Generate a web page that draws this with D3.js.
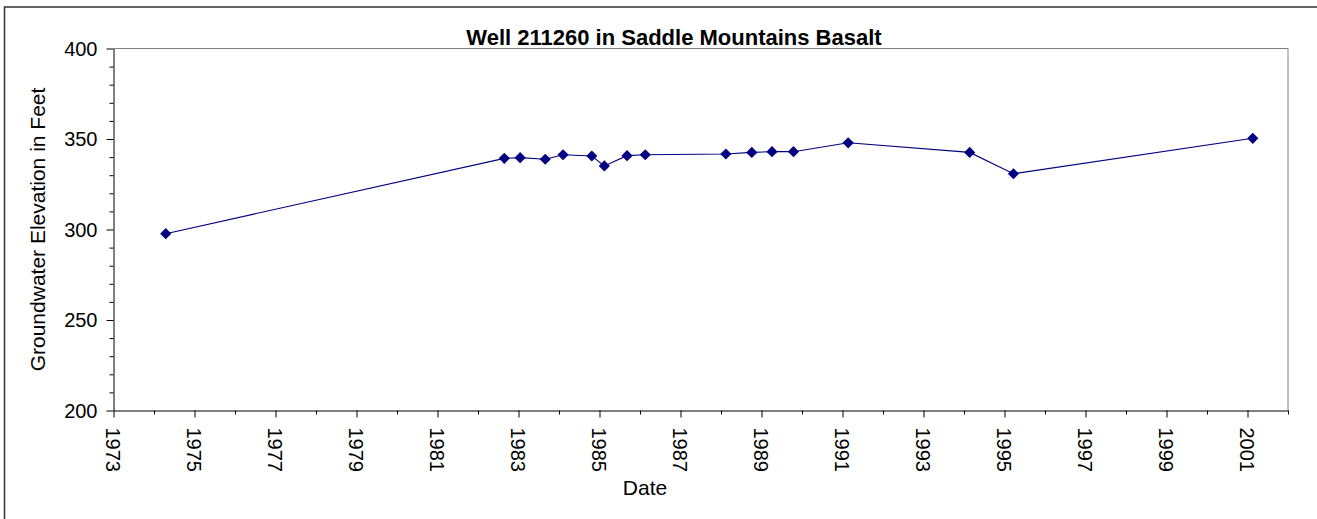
<!DOCTYPE html>
<html>
<head>
<meta charset="utf-8">
<script src="https://cdn.jsdelivr.net/npm/d3@7"></script>
<style>
    html, body { margin: 0; padding: 0; background: #fff; }
    svg text { font-family: Arial, "Liberation Sans", sans-serif; fill: #000; }
</style>
</head>
<body>
<svg id="chart" width="1317" height="519"></svg>
<script>
// Measurement dates (decimal years) and groundwater elevations (feet)
const sampleYears = [1974.29, 1982.65, 1983.04, 1983.66, 1984.10, 1984.81, 1985.12, 1985.68, 1986.13,
    1988.12, 1988.76, 1989.26, 1989.79, 1991.14, 1994.14, 1995.22, 2001.13];
const elevations = [297.7, 339.3, 339.7, 338.8, 341.3, 340.6, 335.1, 340.8, 341.3,
    341.7, 342.6, 343.0, 343.0, 347.9, 342.6, 330.8, 350.4];

const xDomain = [1973, 2002];
const yDomain = [200, 400];
const xLabelYears = [1973, 1975, 1977, 1979, 1981, 1983, 1985, 1987, 1989, 1991, 1993, 1995, 1997, 1999, 2001];
const yLabelValues = [200, 250, 300, 350, 400];

const titleText = 'Well 211260 in Saddle Mountains Basalt';
const xTitleText = 'Date';
const yTitleText = 'Groundwater Elevation in Feet';

drawChart();

function drawChart() {
    const svg = d3.select('svg#chart');

    // No Magic Number !
    const plotLeft = 113.5,
        plotRight = 1288,
        plotTop = 48.5,
        plotBottom = 410.5,
        lineColor = '#000080',
        tickFont = '20px',
        titleFont = '21px',
        majorTick = 7,
        minorTick = 4;

    const x = d3.scaleLinear().domain(xDomain).range([plotLeft, plotRight]);
    const y = d3.scaleLinear().domain(yDomain).range([plotBottom, plotTop]);

    drawFrame();
    drawAxes();
    drawTitles();
    drawSeries();

    /**
     * Draw outer chart border and plot area border
     */
    function drawFrame() {
        svg.append('rect')
            .attr('x', 4.5)
            .attr('y', 7)
            .attr('width', 1330)
            .attr('height', 530)
            .attr('fill', 'none')
            .attr('stroke', '#333')
            .attr('stroke-width', 1.5);

        // plot area: gray top and right edges
        svg.append('path')
            .attr('d', `M${plotLeft},${plotTop}H${plotRight}V${plotBottom}`)
            .attr('fill', 'none')
            .attr('stroke', '#808080')
            .attr('stroke-width', 1);
    }

    /**
     * Draw X / Y axes with major and minor ticks
     */
    function drawAxes() {
        const xAxis = d3.axisBottom(x)
            .tickValues(d3.range(xDomain[0], xDomain[1] + 1))
            .tickSizeOuter(0)
            .tickFormat('');
        const gx = svg.append('g')
            .attr('transform', `translate(0,${plotBottom})`)
            .call(xAxis);
        gx.selectAll('.tick line')
            .attr('y2', d => (d - 1973) % 2 === 0 ? majorTick : minorTick);

        const yAxis = d3.axisLeft(y)
            .tickValues(d3.range(yDomain[0], yDomain[1] + 1, 10))
            .tickSizeOuter(0)
            .tickFormat('');
        const gy = svg.append('g')
            .attr('transform', `translate(${plotLeft},0)`)
            .call(yAxis);
        gy.selectAll('.tick line')
            .attr('x2', d => d % 50 === 0 ? -majorTick : -minorTick);

        svg.selectAll('.domain').attr('stroke', '#000');
        svg.selectAll('.tick line').attr('stroke', '#000');

        // x tick labels rotated, reading top to bottom
        svg.selectAll('text.x-label')
            .data(xLabelYears)
            .enter()
            .append('text')
            .classed('x-label', true)
            .text(d => d)
            .attr('transform', d => `translate(${x(d) - 1},${plotBottom + 17}) rotate(90)`)
            .attr('text-anchor', 'start')
            .attr('dominant-baseline', 'central')
            .style('font-size', tickFont);

        svg.selectAll('text.y-label')
            .data(yLabelValues)
            .enter()
            .append('text')
            .classed('y-label', true)
            .text(d => d)
            .attr('x', plotLeft - 16)
            .attr('y', d => y(d))
            .attr('text-anchor', 'end')
            .attr('dominant-baseline', 'central')
            .style('font-size', tickFont);
    }

    /**
     * Draw chart title and axis titles
     */
    function drawTitles() {
        svg.append('text')
            .text(titleText)
            .attr('x', 674)
            .attr('y', 37)
            .attr('text-anchor', 'middle')
            .attr('dominant-baseline', 'central')
            .style('font-size', '22px')
            .style('font-weight', 'bold');

        svg.append('text')
            .text(xTitleText)
            .attr('x', 645)
            .attr('y', 487)
            .attr('text-anchor', 'middle')
            .attr('dominant-baseline', 'central')
            .style('font-size', titleFont);

        svg.append('text')
            .text(yTitleText)
            .attr('transform', `translate(37,${(plotTop + plotBottom) / 2}) rotate(-90)`)
            .attr('text-anchor', 'middle')
            .attr('dominant-baseline', 'central')
            .style('font-size', titleFont);
    }

    /**
     * Draw line and diamond markers
     */
    function drawSeries() {
        const points = sampleYears.map((yr, i) => ({ yr: yr, val: elevations[i] }));

        const line = d3.line()
            .x(d => x(d.yr))
            .y(d => y(d.val));

        svg.append('path')
            .datum(points)
            .attr('d', line)
            .attr('fill', 'none')
            .attr('stroke', lineColor)
            .attr('stroke-width', 1.1);

        const diamond = d3.symbol().type(d3.symbolDiamond2).size(80);
        svg.selectAll('path.marker')
            .data(points)
            .enter()
            .append('path')
            .classed('marker', true)
            .attr('d', diamond)
            .attr('transform', d => `translate(${x(d.yr)},${y(d.val)})`)
            .attr('fill', lineColor);
    }
}
</script>
</body>
</html>
